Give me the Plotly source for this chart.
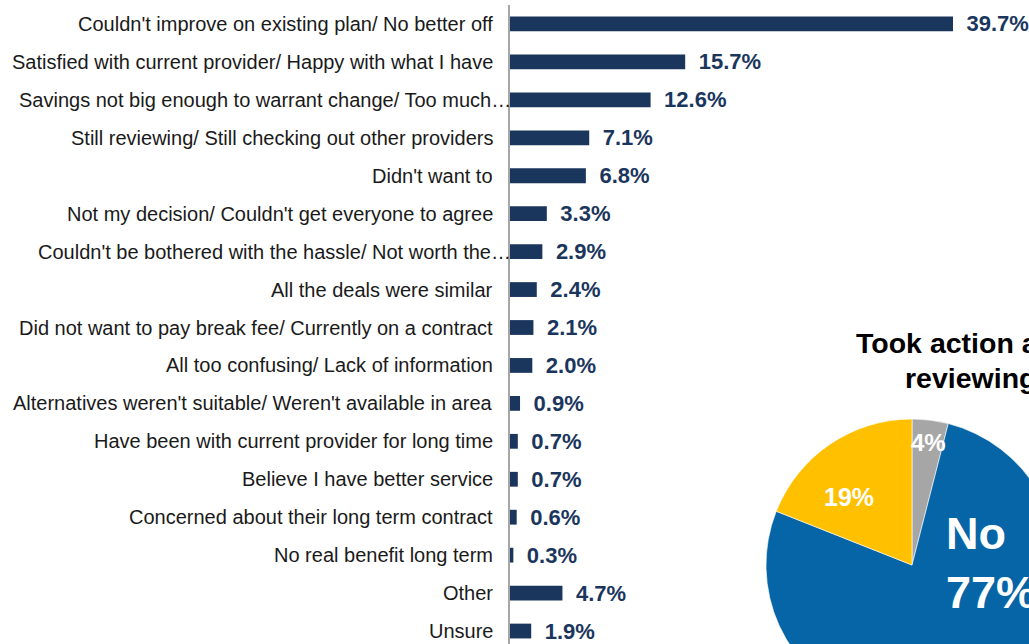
import plotly.graph_objects as go

# Reasons given for not switching (share of respondents, %)
reasons = [
    "Couldn't improve on existing plan/ No better off",
    "Satisfied with current provider/ Happy with what I have",
    "Savings not big enough to warrant change/ Too much\u2026",
    "Still reviewing/ Still checking out other providers",
    "Didn't want to",
    "Not my decision/ Couldn't get everyone to agree",
    "Couldn't be bothered with the hassle/ Not worth the\u2026",
    "All the deals were similar",
    "Did not want to pay break fee/ Currently on a contract",
    "All too confusing/ Lack of information",
    "Alternatives weren't suitable/ Weren't available in area",
    "Have been with current provider for long time",
    "Believe I have better service",
    "Concerned about their long term contract",
    "No real benefit long term",
    "Other",
    "Unsure",
]
reason_pct = [39.7, 15.7, 12.6, 7.1, 6.8, 3.3, 2.9, 2.4, 2.1, 2.0,
              0.9, 0.7, 0.7, 0.6, 0.3, 4.7, 1.9]

# Took action after reviewing (clockwise from 12 o'clock)
action_title = ["Took action after", "reviewing"]
action_labels = ["Unsure", "No", "Yes"]
action_pct = [4, 77, 19]

NAVY = "#1B365D"
FONT = "Arial, Liberation Sans, sans-serif"

# The canvas is a bit larger than the visible page so the pie runs off the edge
W, H = 1100, 720


def px_x(p):
    return p / W


def px_y(p):
    return 1 - p / H


fig = go.Figure()

fig.add_trace(go.Bar(
    x=reason_pct,
    y=reasons,
    orientation="h",
    marker=dict(color=NAVY, line=dict(width=0)),
    width=0.39,
    texttemplate="\u00a0\u2009%{x:.1f}%",
    textposition="outside",
    constraintext="none",
    cliponaxis=False,
    textfont=dict(family=FONT, size=22, color=NAVY, weight="bold"),
    hoverinfo="skip",
    showlegend=False,
))

fig.add_trace(go.Pie(
    labels=action_labels,
    values=action_pct,
    sort=False,
    direction="clockwise",
    rotation=0,
    marker=dict(colors=["#A6A6A6", "#0665A6", "#FFC000"],
                line=dict(color="white", width=0.6)),
    textinfo="none",
    hoverinfo="skip",
    showlegend=False,
    domain=dict(x=[px_x(766), px_x(1058)], y=[px_y(711), px_y(419)]),
))

annotations = []

# Category labels, right-aligned against the axis; clipped ("…") labels run
# slightly over the axis line
for r in reasons:
    annotations.append(dict(
        xref="paper", x=px_x(495), yref="y", y=r,
        xanchor="right", yanchor="middle",
        xshift=18 if r.endswith("\u2026") else 0,
        text=r, showarrow=False,
        font=dict(family=FONT, size=20, color="#1a1a1a"),
    ))

# Pie title (two lines) and slice labels
for line, ypix in zip(action_title, [343, 378]):
    annotations.append(dict(
        xref="paper", yref="paper", x=px_x(970), y=px_y(ypix),
        xanchor="center", yanchor="middle", showarrow=False,
        text=f"<b>{line}</b>",
        font=dict(family=FONT, size=28.5, color="black"),
    ))

annotations += [
    dict(x=px_x(928), y=px_y(442), text=f"<b>{action_pct[0]}%</b>",
         font=dict(family=FONT, size=24, color="white"), xanchor="center"),
    dict(x=px_x(849), y=px_y(497), text=f"<b>{action_pct[2]}%</b>",
         font=dict(family=FONT, size=25, color="white"), xanchor="center"),
    dict(x=px_x(944), y=px_y(563), text=f"<b>{action_labels[1]}<br>{action_pct[1]}%</b>",
         font=dict(family=FONT, size=45, color="white"), align="left",
         xanchor="left"),
]
for a in annotations[-3:]:
    a.update(xref="paper", yref="paper", yanchor="middle", showarrow=False)

fig.update_layout(
    width=W,
    height=H,
    margin=dict(l=0, r=0, t=0, b=0),
    paper_bgcolor="white",
    plot_bgcolor="white",
    bargap=0.61,
    font=dict(family=FONT, color="#1a1a1a"),
    annotations=annotations,
    xaxis=dict(
        domain=[px_x(510), px_x(510 + 45 * 443 / 39.7)],
        range=[0, 45],
        visible=False,
        fixedrange=True,
    ),
    yaxis=dict(
        domain=[px_y(650), px_y(5)],
        autorange="reversed",
        type="category",
        showgrid=False,
        zeroline=False,
        showline=True,
        linecolor="#A6A6A6",
        linewidth=2,
        ticks="",
        showticklabels=False,
        automargin=False,
        fixedrange=True,
    ),
)

fig.write_html(
    "out.html",
    config={"displayModeBar": False},
    post_script=(
        "document.documentElement.style.overflow='hidden';"
        "document.body.style.overflow='hidden';"
        "document.body.style.margin='0';"
    ),
)
